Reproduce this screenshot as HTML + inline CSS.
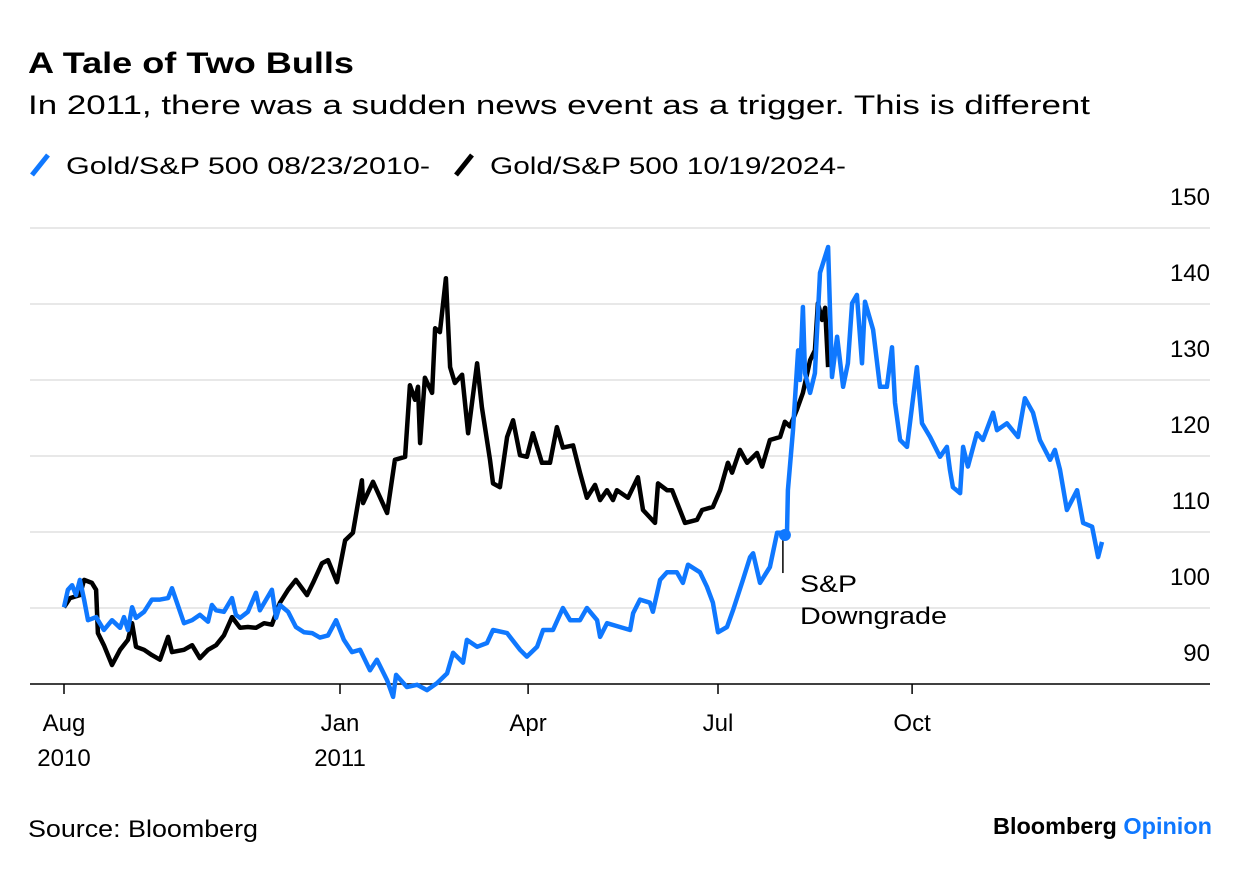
<!DOCTYPE html>
<html><head><meta charset="utf-8"><style>
html,body{margin:0;padding:0;background:#fff;}
svg{display:block;font-family:"Liberation Sans",Arial,sans-serif;}
</style></head><body>
<svg id="chart" width="1240" height="870" viewBox="0 0 1240 870">
<text x="28" y="73" font-size="30" font-weight="bold" fill="#000" textLength="326" lengthAdjust="spacingAndGlyphs">A Tale of Two Bulls</text>
<text x="28" y="114" font-size="27" fill="#000" textLength="1062" lengthAdjust="spacingAndGlyphs">In 2011, there was a sudden news event as a trigger. This is different</text>
<g>
<g><line x1="32" y1="175" x2="48" y2="155" stroke="#0f78ff" stroke-width="5"/><text x="66" y="174" font-size="24" textLength="364" lengthAdjust="spacingAndGlyphs">Gold/S&amp;P 500 08/23/2010-</text></g>
<g><line x1="456" y1="175" x2="472" y2="155" stroke="#000" stroke-width="5"/><text x="490" y="174" font-size="24" textLength="356" lengthAdjust="spacingAndGlyphs">Gold/S&amp;P 500 10/19/2024-</text></g>
</g>
<g id="grid"></g>
<g id="ylabels"></g>
<g id="xaxis"></g>
<g id="series"></g>
<g id="annot"></g>
<text x="28" y="837" font-size="24" textLength="230" lengthAdjust="spacingAndGlyphs">Source: Bloomberg</text>
<text x="993" y="834" font-size="23" font-weight="bold" textLength="219" lengthAdjust="spacingAndGlyphs">Bloomberg <tspan fill="#0f78ff">Opinion</tspan></text>
</svg>
<script>
const yTicks=[90,100,110,120,130,140,150];
const xTickT=[0,92,154.7,218,282.7];
const xTickLabels=[["Aug","2010"],["Jan","2011"],["Apr",""],["Jul",""],["Oct",""]];
const blueT=[0,1.3,2.7,4,5.3,6.7,8,10.7,13.3,16,18.7,20,21.3,22.7,24,26.7,29.3,32,34.7,36,37.3,40,42.7,45.3,48,49.3,50.7,53.3,56,57.3,58.7,61.3,64,65.3,69.3,70.7,72,74.7,77.3,80,82.7,85.3,88,90.7,93.3,96,98.7,102,104.3,107.7,109.7,110.7,114.3,117.7,121,124.3,127.7,129.7,133,134.3,137.7,141,143,147.7,152,154.3,157.7,159.7,163,166.3,168.7,172,174.3,177.7,178.7,181,185.3,188.7,189.7,192,195.3,196.3,198.7,201,204.3,206.3,208,212,214.3,216.3,218,221,223,226.3,228.7,229.7,232,235.3,237.7,241,241.3,243,244.7,245.3,246.3,247,248.7,250.3,252,254.7,256,257.7,259.7,261.3,262.7,264.3,266,267,269.7,272,274.3,276,277,278.7,281,284.3,286,288.7,292,294.3,295.3,296.3,298.7,299.7,301.3,304.3,306.3,309.7,311,314.3,318,320.3,323,325.3,328.7,330.3,332,334.3,337.7,339.7,342.7,344.7,346];
const blueV=[100.1,102.4,103.0,101.7,103.7,101.1,98.4,98.8,97.1,98.4,97.4,98.8,97.1,100.1,98.7,99.5,101.1,101.1,101.3,102.6,101.1,98.0,98.4,99.1,98.2,100.4,99.7,99.5,101.3,99.1,98.7,99.5,102.0,99.7,102.4,98.7,100.4,99.5,97.5,96.8,96.7,96.1,96.4,98.4,95.8,94.2,94.5,91.8,93.2,90.5,88.3,91.2,89.6,89.9,89.2,90.1,91.4,94.1,92.8,95.8,94.9,95.4,97.1,96.7,94.5,93.6,94.9,97.1,97.1,100.0,98.4,98.4,100.0,98.4,96.2,98.0,97.5,97.1,99.3,101.1,100.7,99.5,103.7,104.7,104.7,103.3,105.7,104.7,102.8,100.7,96.8,97.5,99.7,103.7,106.7,107.2,103.3,105.4,109.9,109.9,115.5,123.4,133.9,130.0,139.6,130.9,128.3,130.9,144.1,147.5,130.4,135.7,129.1,132.2,140.1,141.2,132.2,140.3,136.6,129.1,129.1,134.3,127.0,122.1,121.2,131.7,124.3,122.5,119.9,121.2,118.2,115.9,115.1,121.2,118.6,123.0,122.1,125.7,123.4,124.3,122.5,127.6,125.7,122.1,119.5,120.8,118.2,112.9,115.5,111.2,110.7,106.7,108.7];
const blackT=[0,2,5.3,6.7,9.3,10.7,11.3,13.3,16,18.7,21.3,22.7,24,26.7,29.3,32,34.7,36,40,42.7,45.3,48,50.7,53.3,56,58.7,61.3,64,66.7,69.3,72,74.7,77.3,81,83,86,88,91,93.7,96.3,99.3,99.7,103,107.7,110.3,113.7,115.3,117,118,118.7,120.3,122.7,123.7,125.3,127.3,128.7,130.3,132.7,134.7,137.7,139.3,142,143,145.3,147.7,149.7,152,154.3,156.3,159.3,162,164.3,166.3,169.7,172,174.3,177,178.7,181,183,184.3,188,191.3,193,197,198,201,202.7,207,211,212.7,216.3,218.7,221.3,222.7,225.3,227.7,231,232.7,235.3,238.7,240.3,242,244.3,246.3,248.7,250.3,251.3,252.7,253.7,254.7];
const blackV=[100.1,101.3,101.7,103.7,103.3,102.4,96.7,95.1,92.5,94.5,95.8,98.0,94.9,94.5,93.8,93.2,96.2,94.2,94.5,95.1,93.4,94.5,95.1,96.4,98.8,97.4,97.5,97.4,98.0,97.8,100.7,102.4,103.7,101.7,103.3,105.9,106.3,103.4,108.9,109.9,116.8,113.8,116.6,112.5,119.5,119.9,129.3,127.4,129.1,121.7,130.3,128.3,136.8,136.3,143.4,131.7,129.6,130.7,123.0,132.2,126.4,119.5,116.4,115.9,122.5,124.7,120.1,119.9,123.0,119.1,119.1,123.8,121.1,121.4,117.8,114.5,116.2,114.2,115.5,114.2,115.5,114.5,117.2,112.9,111.2,116.4,115.5,115.5,111.2,111.6,112.9,113.3,115.5,119.1,117.8,120.8,119.1,120.4,118.6,122.1,122.5,124.5,123.9,126.1,128.3,132.6,133.9,140.1,137.9,139.5,131.7];
const eventT=240.3, eventV=109.6;

const NS="http://www.w3.org/2000/svg";
const xs=t=>64+t*3;
const ys=v=>684-(v-90)*7.6;
function mk(tag,attrs,parent){const e=document.createElementNS(NS,tag);for(const k in attrs)e.setAttribute(k,attrs[k]);parent.appendChild(e);return e;}
const grid=document.getElementById('grid'),yl=document.getElementById('ylabels'),xa=document.getElementById('xaxis'),ser=document.getElementById('series'),an=document.getElementById('annot');
yTicks.forEach(v=>{
  if(v>90){const g=mk('line',{x1:30,x2:1210,y1:ys(v),y2:ys(v),stroke:'#e8e8e8','stroke-width':2},grid);
  
  }
  const t=mk('text',{x:1210,y:ys(v)-23,'font-size':24,'text-anchor':'end'},yl);t.textContent=v;
  
  
});
const ax=mk('line',{x1:30,x2:1210,y1:684,y2:684,stroke:'#000','stroke-width':1.5},xa);


xTickT.forEach((t,i)=>{
  const x=xs(t);
  const tk=mk('line',{x1:x,x2:x,y1:684,y2:694,stroke:'#000','stroke-width':1.5},xa);
  
  
  const lb=mk('text',{x:x,y:731,'font-size':24,'text-anchor':'middle'},xa);lb.textContent=xTickLabels[i][0];
  
  
  if(xTickLabels[i][1]){const l2=mk('text',{x:x,y:766,'font-size':24,'text-anchor':'middle'},xa);l2.textContent=xTickLabels[i][1];
  
  }
});
function path(T,V){return T.map((t,i)=>(i?'L':'M')+xs(t).toFixed(1)+','+ys(V[i]).toFixed(1)).join('');}
const bk=mk('path',{d:path(blackT,blackV),fill:'none',stroke:'#000','stroke-width':4.5,'stroke-linejoin':'round'},ser);


const bl=mk('path',{d:path(blueT,blueV),fill:'none',stroke:'#0f78ff','stroke-width':4.5,'stroke-linejoin':'round'},ser);


const ex=xs(eventT),ey=ys(eventV);
const ln=mk('line',{x1:ex-2,x2:ex-2,y1:ey,y2:ey+38,stroke:'#000','stroke-width':1.5},an);


const dot=mk('circle',{cx:ex,cy:ey,r:6,fill:'#0f78ff'},an);


const a1=mk('text',{x:800,y:592,'font-size':24,textLength:57,lengthAdjust:'spacingAndGlyphs'},an);a1.textContent='S&P';


const a2=mk('text',{x:800,y:624,'font-size':24,textLength:147,lengthAdjust:'spacingAndGlyphs'},an);a2.textContent='Downgrade';


</script>
</body></html>
